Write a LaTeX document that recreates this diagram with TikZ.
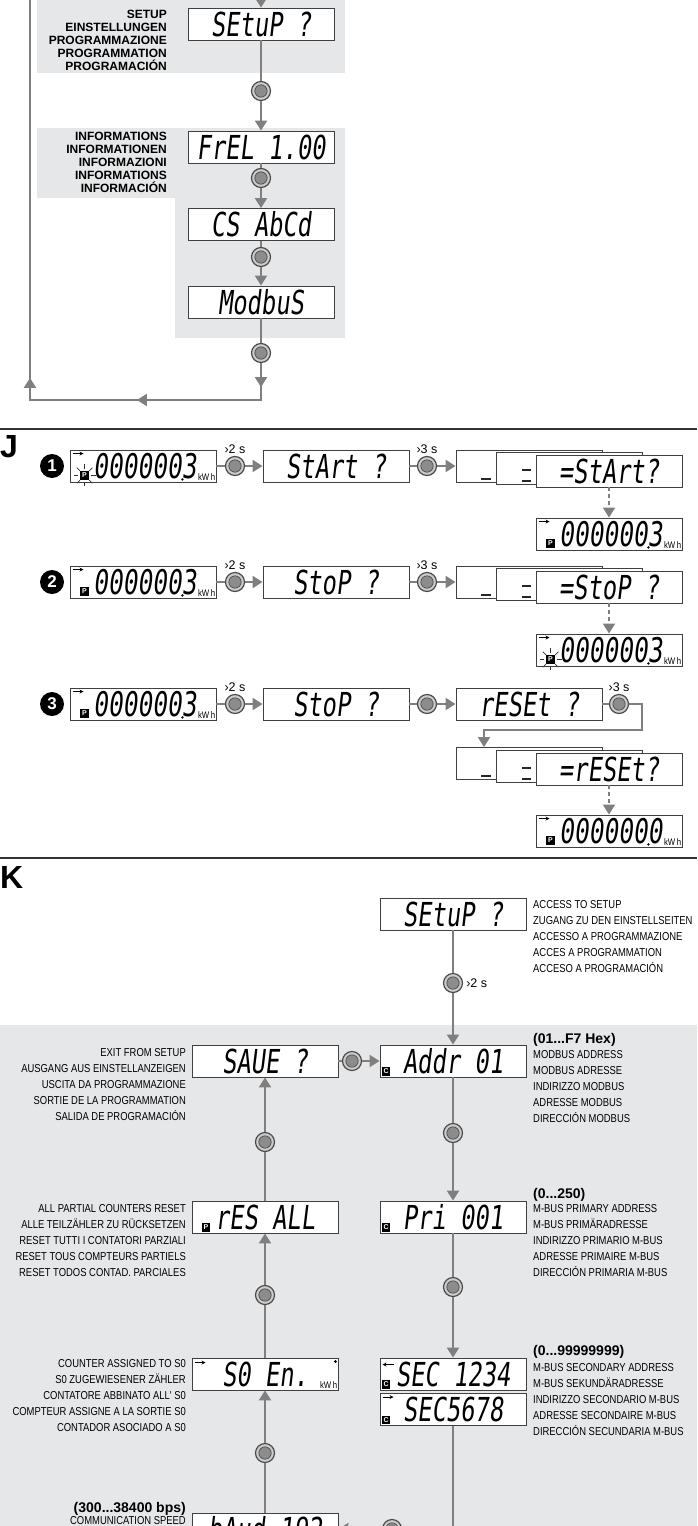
\documentclass[tikz,border=0pt]{standalone}
\usepackage{fontspec}
\setmainfont{Liberation Sans}
\newfontfamily\narrowfont{Liberation Sans}[FakeStretch=0.82]
\newfontfamily\lcdfont{DejaVu Sans Mono}[FakeStretch=0.72,FakeSlant=0.12]
\usepackage{tikz}
\usetikzlibrary{positioning,calc,arrows.meta,decorations.markings}

\definecolor{bandgray}{HTML}{E6E7E8}
\definecolor{flowgray}{HTML}{7F7F7F}
\definecolor{knobgray}{HTML}{8C8C8C}

\tikzset{
  band/.style={fill=bandgray, draw=none},
  lcd/.style={draw=black!75, fill=white, line width=0.9pt, minimum width=146pt, minimum height=32pt,
    inner sep=0pt, font=\lcdfont\fontsize{33}{33}\selectfont},
  seg/.style={inner sep=0pt, font=\lcdfont\fontsize{34}{34}\selectfont},
  knob/.style={circle, draw=black!70, line width=1.2pt, fill=black!20, minimum size=19pt, inner sep=0pt,
    path picture={\draw[black!70, line width=0.7pt, fill=knobgray] (path picture bounding box.center) circle (6.2pt);}},
  flow/.style={draw=flowgray, line width=2.2pt},
  arr/.style={-{Triangle[length=10pt,width=12pt]}},
  >={Triangle[length=10pt,width=12pt]},
  dashflow/.style={draw=flowgray, line width=1.8pt, dash pattern=on 4pt off 3pt},
  sepline/.style={draw=black!80, line width=2.2pt},
  toplbl/.style={font=\bfseries\fontsize{12}{13}\selectfont, align=right, anchor=north east, inner sep=0pt},
  klbl/.style={font=\narrowfont\fontsize{11.5}{16}\selectfont, inner sep=0pt},
  khead/.style={font=\bfseries\fontsize{14}{16}\selectfont, inner sep=0pt},
  tlbl/.style={font=\fontsize{12.5}{12.5}\selectfont, inner sep=0pt},
  seclbl/.style={font=\bfseries\fontsize{32}{32}\selectfont, inner sep=0pt, anchor=north west},
  numdot/.style={circle, fill=black, text=white, font=\bfseries\fontsize{17}{17}\selectfont, minimum size=24pt, inner sep=0pt},
  pbox/.style={fill=black, text=white, font=\bfseries\fontsize{7}{7}\selectfont, minimum size=8.5pt, inner sep=0pt},
  kwh/.style={font=\narrowfont\fontsize{9.5}{9.5}\selectfont, inner sep=0pt},
  pointer/.style={-{Stealth[length=4pt,width=4pt]}, line width=0.8pt},
  segbar/.style={line width=2.4pt, black!85},
  blink/.style={black!80, line width=0.7pt},
}

% energy display: name, x, y, digits, blinking P (1/0)
\newcommand{\kwhbox}[5]{%
  \node[lcd] (#1) at (#2,#3) {};
  \node[seg, anchor=east] (#1d) at ([xshift=-20pt]#1.east) {#4};
  \fill[black] ([xshift=-34pt,yshift=3pt]#1.south east) circle (1.3pt);
  \node[kwh, anchor=south east] (#1u) at ([xshift=-1pt,yshift=2pt]#1.south east) {kW\,h};
  \draw[pointer] ([xshift=3pt,yshift=-4pt]#1.north west) -- ++(11pt,0);
  \node[pbox] (#1p) at ([xshift=15pt,yshift=7pt]#1.south west) {P};
  \ifnum#5=1
    \foreach \a in {0,45,...,315}
      \draw[blink] ([shift={(\a:6.5pt)}]#1p.center) -- ([shift={(\a:11pt)}]#1p.center);
  \fi
}

\begin{document}
\begin{tikzpicture}[x=1pt, y=-1pt]
  \useasboundingbox (0,0) rectangle (697,1526);
  \clip (0,0) rectangle (697,1526);

  % Setup loop (top)
  \fill[band] (37,-5) rectangle (345,73);
  \fill[band] (37,128) -- (345,128) -- (345,338) -- (175,338) -- (175,198) -- (37,198) -- cycle;

  \node[toplbl] (lbsetup) at (167,10) {SETUP\\EINSTELLUNGEN\\PROGRAMMAZIONE\\PROGRAMMATION\\PROGRAMACIÓN};
  \node[toplbl] (lbinfo) at (167,132) {INFORMATIONS\\INFORMATIONEN\\INFORMAZIONI\\INFORMATIONS\\INFORMACIÓN};

  \node[lcd] (setup) at (261,24) {SEtuP ?};
  \node[knob] (kt1) at (261,91) {};
  \node[lcd] (frel) at (261,147) {FrEL 1.00};
  \node[knob] (kt2) at (261,178) {};
  \node[lcd] (csum) at (261,224.5) {CS AbCd};
  \node[knob] (kt3) at (261,257) {};
  \node[lcd] (modb) at (261,302) {ModbuS};
  \node[knob] (kt4) at (261,353) {};

  \coordinate (lpin) at (261,-6);
  \coordinate (lpbr) at (261,400);
  \coordinate (lpbl) at (30,400);
  \coordinate (lptop) at (30,-6);

  \draw[flow, arr] (lpin) -- (setup);
  \draw[flow] (setup) -- (kt1);
  \draw[flow, arr] (kt1) -- (frel);
  \draw[flow] (frel) -- (kt2);
  \draw[flow, arr] (kt2) -- (csum);
  \draw[flow] (csum) -- (kt3);
  \draw[flow, arr] (kt3) -- (modb);
  \draw[flow] (modb) -- (kt4);
  \draw[flow, postaction={decorate}, decoration={markings,
      mark=at position 24pt with {\arrow{>}},
      mark=at position 161pt with {\arrow{>}},
      mark=at position 290pt with {\arrow{>}}}]
    (kt4) -- (lpbr) -- (lpbl) -- (lptop);

  \draw[sepline] (0,429) -- (697,429);

  % J: partial counter start / stop / reset
  \node[seclbl] (secj) at (0,435) {J};

  % row 1
  \node[numdot] (n1) at (52,466) {1};
  \kwhbox{e1}{143}{466}{0000003}{1}
  \node[knob] (k11) at (235,466) {};
  \node[tlbl, above=2pt of k11] (t11) {›2 s};
  \node[lcd] (s1) at (336,466) {StArt ?};
  \node[knob] (k12) at (427,466) {};
  \node[tlbl, above=2pt of k12] (t12) {›3 s};
  \node[lcd] (a1) at (529,466) {};
  \draw[segbar] (481,479) -- (491,479);
  \node[lcd] (b1) at (569,468) {};
  \draw[segbar] (522,470) -- (531,470);
  \draw[segbar] (522,481) -- (531,481);
  \node[lcd] (f1) at (609,471) {=StArt?};
  \kwhbox{d1}{609}{534}{0000003}{0}
  \draw[flow] (e1) -- (k11);
  \draw[flow, arr] (k11) -- (s1);
  \draw[flow] (s1) -- (k12);
  \draw[flow, arr] (k12) -- (a1);
  \draw[dashflow, arr] (f1) -- (d1);

  % row 2
  \node[numdot] (n2) at (52,582) {2};
  \kwhbox{e2}{143}{582}{0000003}{0}
  \node[knob] (k21) at (235,582) {};
  \node[tlbl, above=2pt of k21] (t21) {›2 s};
  \node[lcd] (s2) at (336,582) {StoP  ?};
  \node[knob] (k22) at (427,582) {};
  \node[tlbl, above=2pt of k22] (t22) {›3 s};
  \node[lcd] (a2) at (529,582) {};
  \draw[segbar] (481,595) -- (491,595);
  \node[lcd] (b2) at (569,584) {};
  \draw[segbar] (522,586) -- (531,586);
  \draw[segbar] (522,597) -- (531,597);
  \node[lcd] (f2) at (609,587) {=StoP ?};
  \kwhbox{d2}{609}{650}{0000003}{1}
  \draw[flow] (e2) -- (k21);
  \draw[flow, arr] (k21) -- (s2);
  \draw[flow] (s2) -- (k22);
  \draw[flow, arr] (k22) -- (a2);
  \draw[dashflow, arr] (f2) -- (d2);

  % row 3
  \node[numdot] (n3) at (52,704) {3};
  \kwhbox{e3}{143}{704}{0000003}{0}
  \node[knob] (k31) at (235,704) {};
  \node[tlbl, above=2pt of k31] (t31) {›2 s};
  \node[lcd] (s3) at (336,704) {StoP  ?};
  \node[knob] (k32) at (427,704) {};
  \node[lcd] (r3) at (529,704) {rESEt ?};
  \node[knob] (k33) at (619,704) {};
  \node[tlbl, above=2pt of k33] (t33) {›3 s};
  \node[lcd] (a3) at (529,763.5) {};
  \draw[segbar] (481,776) -- (491,776);
  \node[lcd] (b3) at (569,766) {};
  \draw[segbar] (522,768) -- (531,768);
  \draw[segbar] (522,779) -- (531,779);
  \node[lcd] (f3) at (609,769) {=rESEt?};
  \kwhbox{d3}{609}{831}{0000000}{0}
  \coordinate (t3a) at (642,730);
  \coordinate (t3b) at (484,730);
  \draw[flow] (e3) -- (k31);
  \draw[flow, arr] (k31) -- (s3);
  \draw[flow] (s3) -- (k32);
  \draw[flow, arr] (k32) -- (r3);
  \draw[flow] (r3) -- (k33);
  \draw[flow, arr] (k33) -| (t3a) -- (t3b) -- (t3b |- a3.north);
  \draw[dashflow, arr] (f3) -- (d3);

  \draw[sepline] (0,858) -- (697,858);

  % K: setup menu
  \node[seclbl] (seck) at (0,866) {K};
  \fill[band] (0,1025) rectangle (697,1540);

  \node[lcd] (ksetup) at (453,914) {SEtuP ?};
  \node[klbl, anchor=north west, align=left] (kt0) at (533,900)
    {ACCESS TO SETUP\\ZUGANG ZU DEN EINSTELLSEITEN\\ACCESSO A PROGRAMMAZIONE\\ACCES A PROGRAMMATION\\ACCESO A PROGRAMACIÓN};
  \node[knob] (kk0) at (453,983) {};
  \node[tlbl, right=3pt of kk0] (tk0) {›2 s};

  % right column
  \node[lcd] (addr) at (453,1061) {Addr  01};
  \node[pbox] (addrc) at ([xshift=6.5pt,yshift=6pt]addr.south west) {C};
  \node[khead, anchor=north west] (kh1) at (533,1033) {(01...F7 Hex)};
  \node[klbl, anchor=north west, align=left] (kt1) at (533,1050)
    {MODBUS ADDRESS\\MODBUS ADRESSE\\INDIRIZZO MODBUS\\ADRESSE MODBUS\\DIRECCIÓN MODBUS};
  \node[knob] (kk1) at (453,1133) {};

  \node[lcd] (pri) at (453,1217) {Pri  001};
  \node[pbox] (pric) at ([xshift=6.5pt,yshift=6pt]pri.south west) {C};
  \node[khead, anchor=north west] (kh2) at (533,1188) {(0...250)};
  \node[klbl, anchor=north west, align=left] (kt2) at (533,1204)
    {M-BUS PRIMARY ADDRESS\\M-BUS PRIMÄRADRESSE\\INDIRIZZO PRIMARIO M-BUS\\ADRESSE PRIMAIRE M-BUS\\DIRECCIÓN PRIMARIA M-BUS};
  \node[knob] (kk2) at (453,1287) {};

  \node[lcd] (sec1) at (453,1374) {SEC 1234};
  \node[pbox] (sec1c) at ([xshift=6.5pt,yshift=6pt]sec1.south west) {C};
  \draw[pointer] ([xshift=14pt,yshift=-7pt]sec1.north west) -- ++(-11pt,0);
  \node[lcd] (sec2) at (453,1409.5) {SEC5678};
  \node[pbox] (sec2c) at ([xshift=6.5pt,yshift=6pt]sec2.south west) {C};
  \draw[pointer] ([xshift=3pt,yshift=-4pt]sec2.north west) -- ++(11pt,0);
  \node[khead, anchor=north west] (kh3) at (533,1345) {(0...99999999)};
  \node[klbl, anchor=north west, align=left] (kt3) at (533,1363)
    {M-BUS SECONDARY ADDRESS\\M-BUS SEKUNDÄRADRESSE\\INDIRIZZO SECONDARIO M-BUS\\ADRESSE SECONDAIRE M-BUS\\DIRECCIÓN SECUNDARIA M-BUS};
  \coordinate (secbot) at (453,1540);
  \coordinate (bdin) at (453,1529);

  \draw[flow] (ksetup) -- (kk0);
  \draw[flow, arr] (kk0) -- (addr);
  \draw[flow] (addr) -- (kk1);
  \draw[flow, arr] (kk1) -- (pri);
  \draw[flow] (pri) -- (kk2);
  \draw[flow, arr] (kk2) -- (sec1);
  \draw[flow] (sec2) -- (secbot);

  % left column
  \node[lcd] (save) at (265,1061) {SAUE ?};
  \node[klbl, anchor=north east, align=right] (kl0t) at (186,1048)
    {EXIT FROM SETUP\\AUSGANG AUS EINSTELLANZEIGEN\\USCITA DA PROGRAMMAZIONE\\SORTIE DE LA PROGRAMMATION\\SALIDA DE PROGRAMACIÓN};
  \node[knob] (kl0) at (352,1061) {};
  \node[knob] (kl1) at (265,1142) {};

  \node[lcd] (rall) at (265,1217) {rES ALL};
  \node[pbox] (rallp) at ([xshift=14.5pt,yshift=6pt]rall.south west) {P};
  \node[klbl, anchor=north east, align=right] (kl1t) at (186,1204)
    {ALL PARTIAL COUNTERS RESET\\ALLE TEILZÄHLER ZU RÜCKSETZEN\\RESET TUTTI I CONTATORI PARZIALI\\RESET TOUS COMPTEURS PARTIELS\\RESET TODOS CONTAD. PARCIALES};
  \node[knob] (kl2) at (265,1295) {};

  \node[lcd] (s0en) at (265,1374) {S0  En.};
  \draw[pointer] ([xshift=3pt,yshift=-5pt]s0en.north west) -- ++(11pt,0);
  \fill[black] ([xshift=-3pt,yshift=-4pt]s0en.north east) circle (1.6pt);
  \node[kwh, anchor=south east] (s0enu) at ([xshift=-1pt,yshift=2pt]s0en.south east) {kW\,h};
  \node[klbl, anchor=north east, align=right] (kl2t) at (186,1359)
    {COUNTER ASSIGNED TO S0\\S0 ZUGEWIESENER ZÄHLER\\CONTATORE ABBINATO ALL' S0\\COMPTEUR ASSIGNE A LA SORTIE S0\\CONTADOR ASOCIADO A S0};
  \node[knob] (kl3) at (265,1453) {};

  \node[lcd] (baud) at (265,1529) {bAud 192};
  \node[khead, anchor=north east] (kl4h) at (186,1502) {(300...38400 bps)};
  \node[klbl, anchor=north east] (kl4t) at (186,1516) {COMMUNICATION SPEED};
  \node[knob] (kl4) at (392,1529) {};

  \draw[flow] (save) -- (kl0);
  \draw[flow, arr] (kl0) -- (addr);
  \draw[flow] (rall) -- (kl1);
  \draw[flow, arr] (kl1) -- (save);
  \draw[flow] (s0en) -- (kl2);
  \draw[flow, arr] (kl2) -- (rall);
  \draw[flow] (baud) -- (kl3);
  \draw[flow, arr] (kl3) -- (s0en);
  \draw[flow] (bdin) -- (kl4);
  \draw[flow, arr] (kl4) -- (baud);
\end{tikzpicture}
\end{document}
